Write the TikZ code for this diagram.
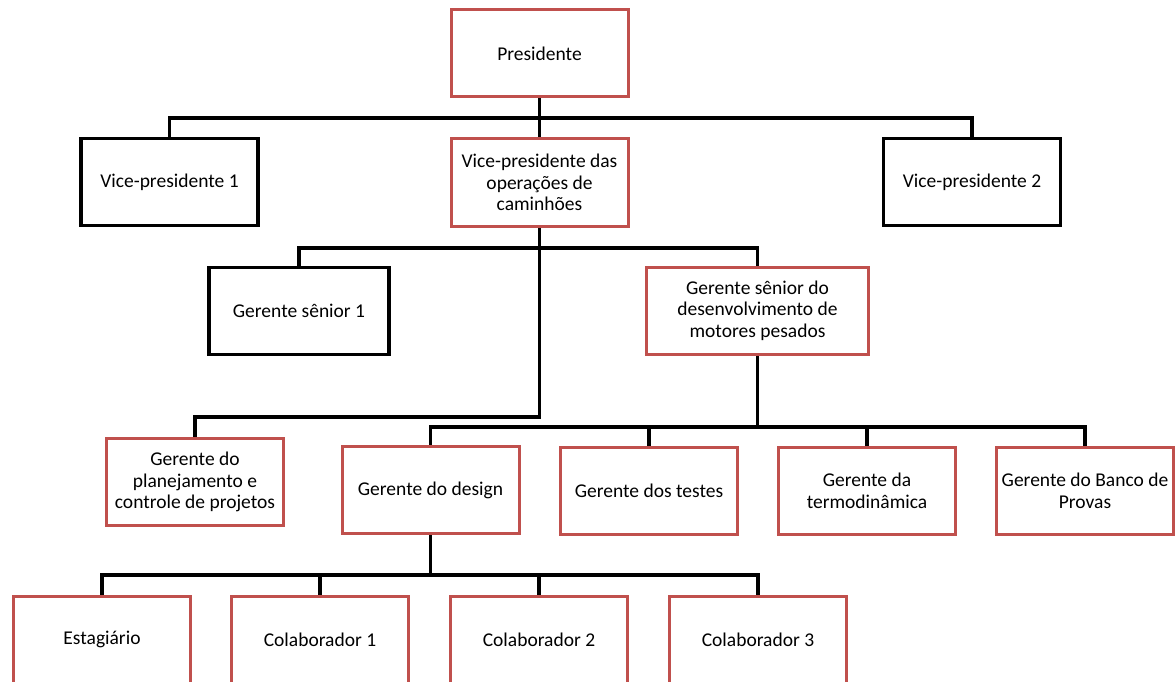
\documentclass[tikz,border=0pt]{standalone}
\usepackage{fontspec}
\setmainfont{Carlito}
\usetikzlibrary{backgrounds}
\definecolor{boxred}{RGB}{192,80,77}
\begin{document}
\begin{tikzpicture}[x=1pt,y=-1pt,
  box/.style={fill=white, minimum width=177pt, minimum height=87pt, inner sep=2pt, align=center, font=\fontsize{19.5}{21.7}\selectfont, text=black},
  redbox/.style={box, draw=boxred, line width=3pt},
  blackbox/.style={box, draw=black, line width=3.6pt},
  conn/.style={draw=black, line width=3.6pt}]
\useasboundingbox (0,0) rectangle (1176,682);

\node[redbox] (pres) at (539.5,53.5) {Presidente};
\node[blackbox] (vp1) at (169.5,182) {Vice-presidente 1};
\node[redbox] (vpo) at (539.5,182.5) {Vice-presidente das\\operações de\\caminhões};
\node[blackbox] (vp2) at (972,182) {Vice-presidente 2};
\node[blackbox, minimum width=180pt] (gs1) at (299,311) {Gerente sênior 1};
\node[redbox, minimum width=222pt] (gsd) at (757.5,310.5) {Gerente sênior do\\desenvolvimento de\\motores pesados};
\node[redbox] (gpl) at (195,482) {Gerente do\\planejamento e\\controle de projetos};
\node[redbox] (gdes) at (430.5,490) {Gerente do design};
\node[redbox] (gtes) at (649,490.5) {Gerente dos testes};
\node[redbox] (gter) at (867,490.5) {Gerente da\\termodinâmica};
\node[redbox] (gban) at (1085,490.5) {Gerente do Banco de\\Provas};
\node[redbox] (est) at (102,639.5) {Estagiário};
\node[redbox] (c1) at (320,639.5) {Colaborador 1};
\node[redbox] (c2) at (539,639.5) {Colaborador 2};
\node[redbox] (c3) at (758,639.5) {Colaborador 3};

\coordinate (b1) at (539.5,118);
\coordinate (b2) at (539.5,248);
\coordinate (b3) at (539.5,417);
\coordinate (b4) at (757.5,427);
\coordinate (b5) at (430.5,575);

\begin{scope}[on background layer]
\draw[conn] (pres.south) -- (vpo.north);
\draw[conn] (vp1.north) |- (b1) -| (vp2.north);
\draw[conn] (vpo.south) -- (b3) -| (gpl.north);
\draw[conn] (gs1.north) |- (b2) -| (gsd.north);
\draw[conn] (gsd.south) -- (b4);
\draw[conn] (gdes.north) |- (b4) -| (gban.north);
\draw[conn] (b4) -| (gtes.north);
\draw[conn] (b4) -| (gter.north);
\draw[conn] (gdes.south) -- (b5);
\draw[conn] (est.north) |- (b5) -| (c3.north);
\draw[conn] (b5) -| (c1.north);
\draw[conn] (b5) -| (c2.north);
\end{scope}
\end{tikzpicture}
\end{document}
